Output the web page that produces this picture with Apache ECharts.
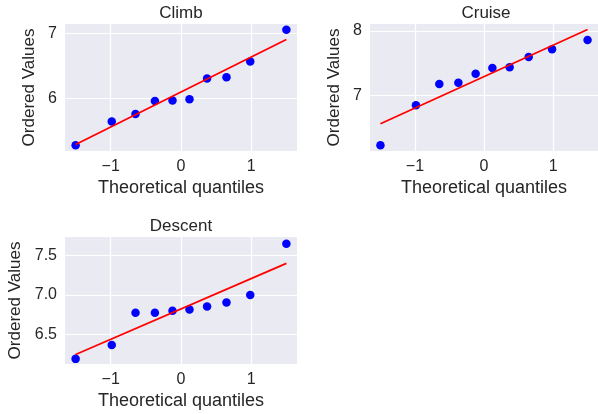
<!DOCTYPE html>
<html>
<head>
<meta charset="utf-8">
<title>probplot</title>
<script src="https://cdn.jsdelivr.net/npm/echarts@6/dist/echarts.min.js"></script>
<style>
    html, body { margin: 0; padding: 0; background: #fff; }
    #main { width: 598px; height: 414px; }
</style>
</head>
<body>
<div id="main"></div>
<script>
// theoretical quantiles (x of every point)
var quantiles = [-1.499, -0.985, -0.647, -0.371, -0.121, 0.121, 0.371, 0.647, 0.985, 1.499];
// ordered values per phase
var climb = [5.28, 5.645, 5.76, 5.96, 5.97, 5.99, 6.31, 6.33, 6.57, 7.06];
var cruise = [6.22, 6.845, 7.175, 7.195, 7.335, 7.425, 7.435, 7.595, 7.715, 7.86];
var descent = [6.19, 6.365, 6.775, 6.775, 6.80, 6.815, 6.855, 6.905, 7.00, 7.65];
// fitted line ends (at first and last quantile)
var fitX = [-1.499, 1.499];
var climbFit = [5.29, 6.91];
var cruiseFit = [6.555, 8.025];
var descentFit = [6.245, 7.40];
// tick labels
var xTicks = [-1, 0, 1];
var climbTicks = [6, 7];
var cruiseTicks = [7, 8];
var descentTicks = [6.5, 7.0, 7.5];
var titles = ['Climb', 'Cruise', 'Descent'];

(function () {
    var myChart = echarts.init(document.getElementById('main'));
    var font = 'Liberation Sans, Arial, sans-serif';
    var txt = '#262626';

    function pairs(xs, ys) {
        return xs.map(function (x, i) { return [x, ys[i]]; });
    }
    function minus(v) {
        return String(v).replace('-', '\u2212');
    }

    function xAxis(idx) {
        return {
            type: 'value', gridIndex: idx, min: -1.65, max: 1.65,
            name: 'Theoretical quantiles', nameLocation: 'middle', nameGap: 28,
            nameMoveOverlap: false,
            nameTextStyle: { color: txt, fontSize: 18, fontFamily: font },
            axisLine: { show: false },
            axisTick: { show: false, customValues: xTicks },
            axisLabel: { customValues: xTicks, color: txt, fontSize: 16, fontFamily: font, margin: 8,
                formatter: function (v) { return minus(v); } },
            splitLine: { show: true, lineStyle: { color: '#fff', width: 1.2 } }
        };
    }
    function yAxis(idx, min, max, ticks, dec, gap) {
        return {
            type: 'value', gridIndex: idx, min: min, max: max,
            name: 'Ordered Values', nameLocation: 'middle', nameGap: gap,
            nameMoveOverlap: false,
            nameTextStyle: { color: txt, fontSize: 17, fontFamily: font },
            axisLine: { show: false },
            axisTick: { show: false, customValues: ticks },
            axisLabel: { customValues: ticks, color: txt, fontSize: 16, fontFamily: font, margin: 8,
                formatter: function (v) { return v.toFixed(dec); } },
            splitLine: { show: true, lineStyle: { color: '#fff', width: 1.2 } }
        };
    }
    function dots(idx, ys) {
        return {
            type: 'scatter', xAxisIndex: idx, yAxisIndex: idx, data: pairs(quantiles, ys),
            symbolSize: 8.5, itemStyle: { color: '#0000ff', opacity: 1 }, z: 3
        };
    }
    function fit(idx, ys) {
        return {
            type: 'line', xAxisIndex: idx, yAxisIndex: idx, data: pairs(fitX, ys),
            showSymbol: false, lineStyle: { color: '#ff0000', width: 1.8 }, z: 4
        };
    }
    function title(i, x, y) {
        return {
            text: titles[i], left: x, top: y, padding: 0, textAlign: 'center',
            textStyle: { color: txt, fontSize: 17, fontWeight: 'normal', fontFamily: font }
        };
    }

    var gridStyle = { show: true, backgroundColor: '#eaeaf2', borderWidth: 0 };

    option = {
        animation: false,
        title: [title(0, 181, 5), title(1, 486, 5), title(2, 181, 218)],
        grid: [
            Object.assign({ left: 65, top: 24, width: 232, height: 127 }, gridStyle),
            Object.assign({ left: 370, top: 24, width: 232, height: 127 }, gridStyle),
            Object.assign({ left: 65, top: 237, width: 232, height: 127 }, gridStyle)
        ],
        xAxis: [xAxis(0), xAxis(1), xAxis(2)],
        yAxis: [
            yAxis(0, 5.19, 7.15, climbTicks, 0, 27),
            yAxis(1, 6.13, 8.11, cruiseTicks, 0, 27),
            yAxis(2, 6.125, 7.735, descentTicks, 1, 41)
        ],
        series: [
            dots(0, climb), fit(0, climbFit),
            dots(1, cruise), fit(1, cruiseFit),
            dots(2, descent), fit(2, descentFit)
        ]
    };

    myChart.setOption(option);
})();
</script>
</body>
</html>
